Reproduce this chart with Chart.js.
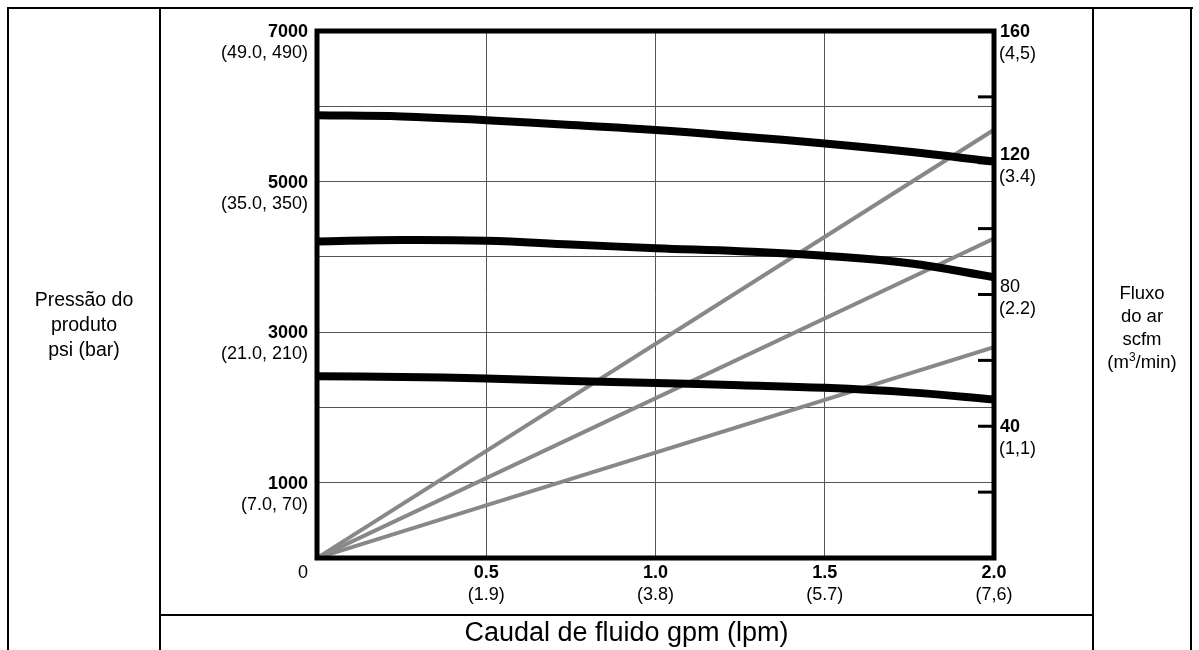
<!DOCTYPE html>
<html>
<head>
<meta charset="utf-8">
<script src="https://cdn.jsdelivr.net/npm/chart.js@4"></script>
<style>
  body { margin: 0; background: #fff; }
  #wrap { position: relative; width: 1199px; height: 650px; overflow: hidden;
          font-family: "Liberation Sans", Arial, Helvetica, sans-serif; color: #000; }
  #chart { position: absolute; left: 0; top: 0; }
  .ln { position: absolute; background: #000; }
  .lbl { position: absolute; text-align: center; }
  sup { font-size: 0.65em; vertical-align: 0.55em; line-height: 0; }
</style>
</head>
<body>
<div id="wrap">
  <canvas id="chart" width="1199" height="650"></canvas>

  <!-- table frame -->
  <div class="ln" style="left:7px;top:7px;width:1186px;height:2px"></div>
  <div class="ln" style="left:7px;top:7px;width:2px;height:643px"></div>
  <div class="ln" style="left:1190px;top:7px;width:2px;height:643px"></div>
  <div class="ln" style="left:159px;top:7px;width:2px;height:643px"></div>
  <div class="ln" style="left:1092px;top:7px;width:2px;height:643px"></div>
  <div class="ln" style="left:159px;top:614px;width:935px;height:2px"></div>

  <div class="lbl" style="left:8px;top:287px;width:152px;font-size:19.5px;line-height:25px">
    Pressão do<br>produto<br>psi (bar)
  </div>
  <div class="lbl" style="left:1094px;top:281px;width:96px;font-size:18.5px;line-height:23px">
    Fluxo<br>do ar<br>scfm<br>(m<sup>3</sup>/min)
  </div>
  <div class="lbl" style="left:161px;top:616px;width:931px;font-size:27px;line-height:32px">
    Caudal de fluido gpm (lpm)
  </div>
</div>

<script>
// ===== DATA =====
const flowGpm = [0, 0.25, 0.5, 0.75, 1.0, 1.25, 1.5, 1.75, 2.0];
const pressHigh = [5880, 5865, 5815, 5750, 5685, 5600, 5505, 5395, 5265];
const pressMid = [4205, 4225, 4215, 4165, 4115, 4075, 4015, 3915, 3730];
const pressLow = [2415, 2405, 2385, 2350, 2325, 2295, 2260, 2200, 2105];

const airGpm = [0, 2.0];
const airHigh = [0, 130];
const airMid = [0, 97];
const airLow = [0, 64];

// tick labels
const psiTicks = [7000, 5000, 3000, 1000];
const psiBar = ["(49.0, 490)", "(35.0, 350)", "(21.0, 210)", "(7.0, 70)"];
const gpmTicks = [0.5, 1.0, 1.5, 2.0];
const gpmLabels = ["0.5", "1.0", "1.5", "2.0"];
const lpmLabels = ["(1.9)", "(3.8)", "(5.7)", "(7,6)"];
const scfmTicks = [160, 120, 80, 40];
const m3Labels = ["(4,5)", "(3.4)", "(2.2)", "(1,1)"];
const scfmBold = [true, true, false, true];
const scfmMarks = [20, 40, 60, 80, 100, 120, 140];

const FONT = '"Liberation Sans", Arial, Helvetica, sans-serif';
const TICK_PX = "18px ";

function pts(xs, ys) {
  return xs.map((x, i) => ({ x: x, y: ys[i] }));
}

// ===== LABELS + FRAME PLUGIN =====
const framePlugin = {
  id: "frame",
  afterDatasetsDraw(chart) {
    const { ctx, chartArea: a, scales } = chart;
    const x = scales.x, y = scales.y, y2 = scales.y2;
    ctx.save();

    // thick plot frame
    ctx.strokeStyle = "#000";
    ctx.lineWidth = 5;
    ctx.strokeRect(a.left, a.top, a.right - a.left, a.bottom - a.top);

    // small marks on right axis
    ctx.lineWidth = 3;
    scfmMarks.forEach((v) => {
      const py = y2.getPixelForValue(v);
      ctx.beginPath();
      ctx.moveTo(a.right - 16, py);
      ctx.lineTo(a.right, py);
      ctx.stroke();
    });

    ctx.fillStyle = "#000";
    ctx.textBaseline = "middle";

    // left axis
    ctx.textAlign = "right";
    psiTicks.forEach((v, i) => {
      const py = y.getPixelForValue(v);
      ctx.font = "bold " + TICK_PX + FONT;
      ctx.fillText(String(v), a.left - 9, py + 1);
      ctx.font = TICK_PX + FONT;
      ctx.fillText(psiBar[i], a.left - 9, py + 22);
    });
    ctx.font = TICK_PX + FONT;
    ctx.fillText("0", a.left - 9, a.bottom + 15);

    // right axis
    const nudge = { 120: -8, 80: -7 };
    ctx.textAlign = "left";
    scfmTicks.forEach((v, i) => {
      const py = y2.getPixelForValue(v) + (nudge[v] || 1);
      ctx.font = (scfmBold[i] ? "bold " : "") + TICK_PX + FONT;
      ctx.fillText(String(v), a.right + 6, py);
      ctx.font = TICK_PX + FONT;
      ctx.fillText(m3Labels[i], a.right + 5, py + 22);
    });

    // bottom axis
    ctx.textAlign = "center";
    gpmTicks.forEach((v, i) => {
      const px = x.getPixelForValue(v);
      ctx.font = "bold " + TICK_PX + FONT;
      ctx.fillText(gpmLabels[i], px, a.bottom + 15);
      ctx.font = TICK_PX + FONT;
      ctx.fillText(lpmLabels[i], px, a.bottom + 37);
    });

    ctx.restore();
  },
};

// ===== CHART =====
const blackLine = { borderColor: "#000", borderWidth: 8, pointRadius: 0, tension: 0.4, yAxisID: "y" };
const grayLine = { borderColor: "#888", borderWidth: 4, pointRadius: 0, tension: 0, yAxisID: "y2" };

new Chart(document.getElementById("chart"), {
  type: "line",
  data: {
    datasets: [
      { ...blackLine, label: "psi alta", data: pts(flowGpm, pressHigh) },
      { ...blackLine, label: "psi média", data: pts(flowGpm, pressMid) },
      { ...blackLine, label: "psi baixa", data: pts(flowGpm, pressLow) },
      { ...grayLine, label: "ar alta", data: pts(airGpm, airHigh) },
      { ...grayLine, label: "ar média", data: pts(airGpm, airMid) },
      { ...grayLine, label: "ar baixa", data: pts(airGpm, airLow) },
    ],
  },
  options: {
    responsive: false,
    animation: false,
    devicePixelRatio: 1,
    layout: { padding: { left: 317, top: 31, right: 205, bottom: 92 } },
    plugins: { legend: { display: false }, tooltip: { enabled: false } },
    scales: {
      x: {
        type: "linear",
        min: 0,
        max: 2,
        ticks: { display: false, stepSize: 0.5 },
        grid: { color: "#555", lineWidth: 1, drawTicks: false },
        border: { display: false },
      },
      y: {
        min: 0,
        max: 7000,
        ticks: { display: false, stepSize: 1000 },
        grid: { color: "#555", lineWidth: 1, drawTicks: false },
        border: { display: false },
      },
      y2: {
        position: "right",
        min: 0,
        max: 160,
        ticks: { display: false },
        grid: { display: false, drawTicks: false },
        border: { display: false },
      },
    },
  },
  plugins: [framePlugin],
});
</script>
</body>
</html>
